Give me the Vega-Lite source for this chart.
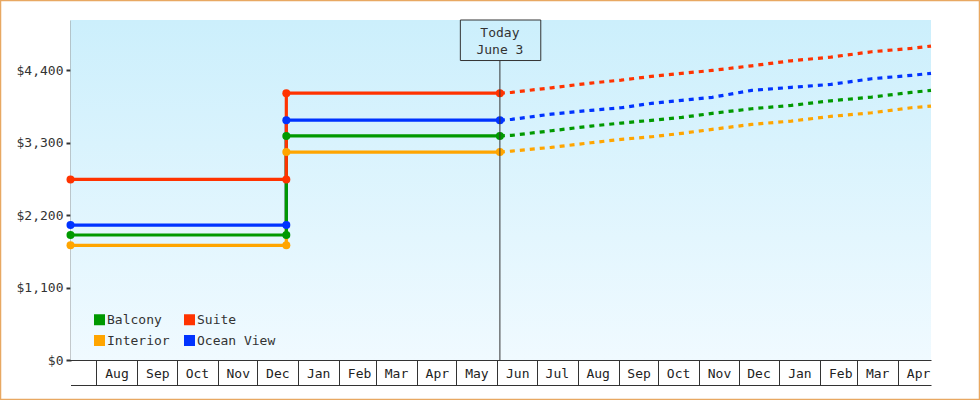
{
  "$schema": "https://vega.github.io/schema/vega-lite/v6.json",
  "width": 980,
  "height": 400,
  "padding": 0,
  "autosize": {"type": "none"},
  "background": "white",
  "datasets": {
    "actual": [
      {"cabin": "Interior", "date": "2024-07-12T07:00:00Z", "price": 1740, "seq": 0},
      {"cabin": "Interior", "date": "2024-12-23T00:00:00Z", "price": 1740, "seq": 1},
      {"cabin": "Interior", "date": "2024-12-23T00:00:00Z", "price": 3155, "seq": 2},
      {"cabin": "Interior", "date": "2025-06-03T00:00:00Z", "price": 3155, "seq": 3},
      {"cabin": "Ocean View", "date": "2024-07-12T07:00:00Z", "price": 2048, "seq": 0},
      {"cabin": "Ocean View", "date": "2024-12-23T00:00:00Z", "price": 2048, "seq": 1},
      {"cabin": "Ocean View", "date": "2024-12-23T00:00:00Z", "price": 3640, "seq": 2},
      {"cabin": "Ocean View", "date": "2025-06-03T00:00:00Z", "price": 3640, "seq": 3},
      {"cabin": "Balcony", "date": "2024-07-12T07:00:00Z", "price": 1897, "seq": 0},
      {"cabin": "Balcony", "date": "2024-12-23T00:00:00Z", "price": 1897, "seq": 1},
      {"cabin": "Balcony", "date": "2024-12-23T00:00:00Z", "price": 3400, "seq": 2},
      {"cabin": "Balcony", "date": "2025-06-03T00:00:00Z", "price": 3400, "seq": 3},
      {"cabin": "Suite", "date": "2024-07-12T07:00:00Z", "price": 2741, "seq": 0},
      {"cabin": "Suite", "date": "2024-12-23T00:00:00Z", "price": 2741, "seq": 1},
      {"cabin": "Suite", "date": "2024-12-23T00:00:00Z", "price": 4050, "seq": 2},
      {"cabin": "Suite", "date": "2025-06-03T00:00:00Z", "price": 4050, "seq": 3}
    ],
    "forecast": [
      {"cabin": "Interior", "date": "2025-06-03", "price": 3155},
      {"cabin": "Interior", "date": "2025-06-12", "price": 3171},
      {"cabin": "Interior", "date": "2025-07-12", "price": 3227},
      {"cabin": "Interior", "date": "2025-08-11", "price": 3297},
      {"cabin": "Interior", "date": "2025-09-03", "price": 3349},
      {"cabin": "Interior", "date": "2025-09-26", "price": 3388},
      {"cabin": "Interior", "date": "2025-10-19", "price": 3440},
      {"cabin": "Interior", "date": "2025-11-11", "price": 3500},
      {"cabin": "Interior", "date": "2025-12-11", "price": 3576},
      {"cabin": "Interior", "date": "2026-01-10", "price": 3626},
      {"cabin": "Interior", "date": "2026-02-09", "price": 3697},
      {"cabin": "Interior", "date": "2026-03-12", "price": 3752},
      {"cabin": "Interior", "date": "2026-04-11", "price": 3828},
      {"cabin": "Interior", "date": "2026-04-26", "price": 3854},
      {"cabin": "Ocean View", "date": "2025-06-03", "price": 3640},
      {"cabin": "Ocean View", "date": "2025-06-12", "price": 3652},
      {"cabin": "Ocean View", "date": "2025-07-12", "price": 3732},
      {"cabin": "Ocean View", "date": "2025-08-11", "price": 3789},
      {"cabin": "Ocean View", "date": "2025-09-03", "price": 3828},
      {"cabin": "Ocean View", "date": "2025-09-26", "price": 3895},
      {"cabin": "Ocean View", "date": "2025-10-19", "price": 3940},
      {"cabin": "Ocean View", "date": "2025-11-11", "price": 3987},
      {"cabin": "Ocean View", "date": "2025-12-11", "price": 4092},
      {"cabin": "Ocean View", "date": "2026-01-10", "price": 4138},
      {"cabin": "Ocean View", "date": "2026-02-09", "price": 4183},
      {"cabin": "Ocean View", "date": "2026-03-12", "price": 4268},
      {"cabin": "Ocean View", "date": "2026-04-11", "price": 4320},
      {"cabin": "Ocean View", "date": "2026-04-26", "price": 4350},
      {"cabin": "Balcony", "date": "2025-06-03", "price": 3400},
      {"cabin": "Balcony", "date": "2025-06-12", "price": 3409},
      {"cabin": "Balcony", "date": "2025-07-12", "price": 3479},
      {"cabin": "Balcony", "date": "2025-08-11", "price": 3550},
      {"cabin": "Balcony", "date": "2025-09-03", "price": 3596},
      {"cabin": "Balcony", "date": "2025-09-26", "price": 3637},
      {"cabin": "Balcony", "date": "2025-10-19", "price": 3682},
      {"cabin": "Balcony", "date": "2025-11-11", "price": 3743},
      {"cabin": "Balcony", "date": "2025-12-11", "price": 3813},
      {"cabin": "Balcony", "date": "2026-01-10", "price": 3864},
      {"cabin": "Balcony", "date": "2026-02-09", "price": 3934},
      {"cabin": "Balcony", "date": "2026-03-12", "price": 3990},
      {"cabin": "Balcony", "date": "2026-04-11", "price": 4062},
      {"cabin": "Balcony", "date": "2026-04-26", "price": 4092},
      {"cabin": "Suite", "date": "2025-06-03", "price": 4050},
      {"cabin": "Suite", "date": "2025-06-12", "price": 4062},
      {"cabin": "Suite", "date": "2025-07-12", "price": 4131},
      {"cabin": "Suite", "date": "2025-08-11", "price": 4203},
      {"cabin": "Suite", "date": "2025-09-03", "price": 4248},
      {"cabin": "Suite", "date": "2025-09-26", "price": 4304},
      {"cabin": "Suite", "date": "2025-10-19", "price": 4350},
      {"cabin": "Suite", "date": "2025-11-11", "price": 4395},
      {"cabin": "Suite", "date": "2025-12-11", "price": 4465},
      {"cabin": "Suite", "date": "2026-01-10", "price": 4541},
      {"cabin": "Suite", "date": "2026-02-09", "price": 4597},
      {"cabin": "Suite", "date": "2026-03-12", "price": 4678},
      {"cabin": "Suite", "date": "2026-04-11", "price": 4729},
      {"cabin": "Suite", "date": "2026-04-26", "price": 4764}
    ],
    "today": [{"date": "2025-06-03", "label": "Today\nJune 3"}]
  },
  "layer": [
    {
      "data": {"values": [{}]},
      "mark": {
        "type": "rect",
        "fill": {"gradient": "linear", "x1": 0, "y1": 0, "x2": 0, "y2": 1,
          "stops": [{"offset": 0, "color": "#cceffc"}, {"offset": 1, "color": "#f0faff"}]}
      },
      "encoding": {
        "x": {
          "datum": {"year": 2024, "month": 7, "date": 12, "hours": 7, "utc": true},
          "type": "temporal",
          "scale": {"type": "utc",
            "domain": [{"year": 2024, "month": 7, "date": 12, "hours": 7, "utc": true}, {"year": 2026, "month": 4, "date": 26, "utc": true}],
            "range": [70.5, 931]},
          "axis": {"orient": "bottom", "offset": -15, "title": null, "labels": false, "ticks": false, "grid": false,
            "domain": true, "domainColor": "#333", "domainWidth": 1}
        },
        "x2": {"datum": {"year": 2026, "month": 4, "date": 26, "utc": true}},
        "y": {"datum": 0, "type": "quantitative",
          "scale": {"domain": [0, 5160], "range": [360, 20], "nice": false, "zero": true},
          "axis": {"orient": "left", "offset": -71, "title": null, "values": [0, 1100, 2200, 3300, 4400],
            "format": "$,.0f", "tickSize": 5, "tickWidth": 2, "tickColor": "#333", "domainColor": "#333",
            "domainWidth": 2, "labelPadding": 3, "labelFont": "DejaVu Sans Mono", "labelFontSize": 13,
            "labelColor": "#333", "grid": false}},
        "y2": {"datum": 5160}
      }
    },
    {
      "data": {"name": "actual"},
      "mark": {"type": "line", "strokeWidth": 3.2},
      "encoding": {
        "x": {"field": "date", "type": "temporal",
          "axis": {"orient": "bottom", "offset": -40, "title": null, "format": "%b",
            "tickCount": {"interval": "month", "step": 1}, "tickSize": 25, "tickWidth": 1, "tickColor": "#333",
            "domainColor": "#333", "domainWidth": 1, "labelPadding": -12, "labelBaseline": "middle",
            "labelAlign": "center", "labelOffset": 20, "labelFlush": false, "labelOverlap": false,
            "labelFont": "DejaVu Sans Mono", "labelFontSize": 13, "labelColor": "#222", "grid": false}},
        "y": {"field": "price", "type": "quantitative"},
        "color": {"field": "cabin", "type": "nominal",
          "scale": {"domain": ["Balcony", "Interior", "Suite", "Ocean View"],
            "range": ["#009900", "#ffa500", "#ff3300", "#0033ff"]},
          "legend": {"orient": "none", "legendX": 93, "legendY": 313, "columns": 2, "title": null,
            "symbolType": "square", "symbolSize": 121, "symbolStrokeWidth": 0, "symbolOpacity": 1,
            "labelFont": "DejaVu Sans Mono", "labelFontSize": 13, "labelColor": "#333", "labelOffset": 1,
            "columnPadding": 13, "rowPadding": 7, "padding": 0}},
        "order": {"field": "seq", "type": "quantitative"}
      }
    },
    {
      "data": {"name": "forecast"},
      "mark": {"type": "line", "strokeWidth": 3.2, "strokeDash": [5, 5]},
      "encoding": {
        "x": {"field": "date", "type": "temporal", "axis": null},
        "y": {"field": "price", "type": "quantitative"},
        "color": {"field": "cabin", "type": "nominal"}
      }
    },
    {
      "data": {"name": "actual"},
      "mark": {"type": "point", "filled": true, "size": 64, "opacity": 1},
      "encoding": {
        "x": {"field": "date", "type": "temporal", "axis": null},
        "y": {"field": "price", "type": "quantitative"},
        "color": {"field": "cabin", "type": "nominal"}
      }
    },
    {
      "data": {"name": "today"},
      "mark": {"type": "rule", "color": "#333", "strokeWidth": 1},
      "encoding": {
        "x": {"field": "date", "type": "temporal", "axis": null},
        "y": {"datum": 0},
        "y2": {"datum": 4545}
      }
    },
    {
      "data": {"name": "today"},
      "mark": {"type": "rect", "fill": null, "stroke": "#333", "strokeWidth": 1},
      "encoding": {
        "x": {"datum": {"year": 2025, "month": 5, "date": 4, "utc": true}, "type": "temporal", "axis": null},
        "x2": {"datum": {"year": 2025, "month": 7, "date": 4, "utc": true}},
        "y": {"datum": 4545},
        "y2": {"datum": 5160}
      }
    },
    {
      "data": {"name": "today"},
      "mark": {"type": "text", "font": "DejaVu Sans Mono", "fontSize": 13, "color": "#333",
        "lineBreak": "\n", "lineHeight": 17.5, "baseline": "middle", "align": "center"},
      "encoding": {
        "x": {"field": "date", "type": "temporal", "axis": null},
        "y": {"datum": 4969},
        "text": {"field": "label"}
      }
    }
  ],
  "resolve": {"axis": {"x": "independent"}},
  "config": {
    "view": {"stroke": "#e8a862", "strokeWidth": 2.5, "fill": "white"},
    "font": "DejaVu Sans Mono"
  }
}
